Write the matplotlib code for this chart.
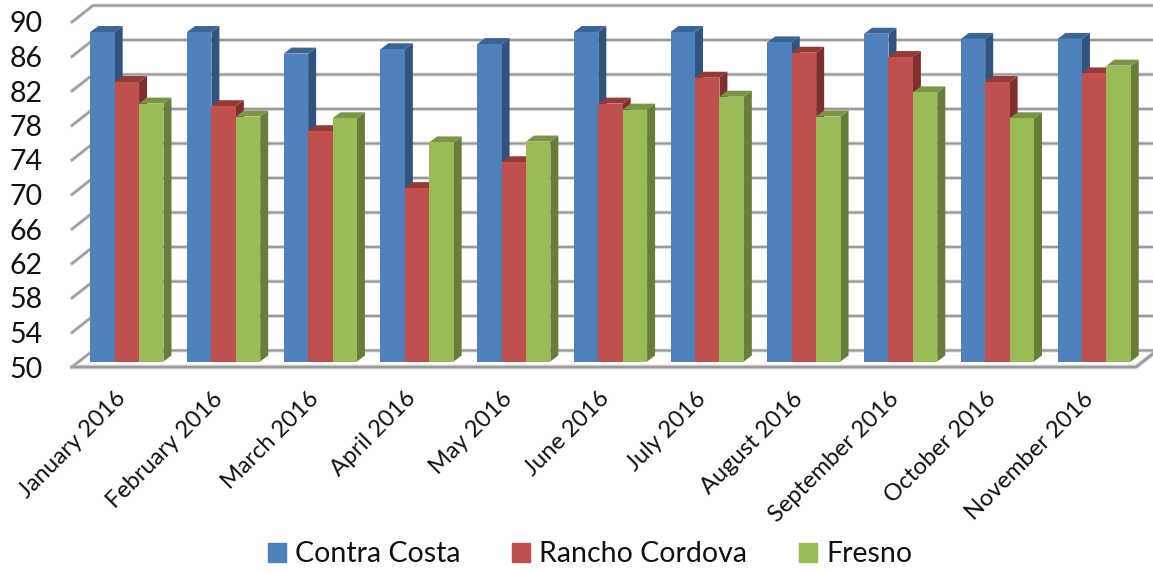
import matplotlib
matplotlib.use('Agg')
import matplotlib.pyplot as plt
from matplotlib.collections import PolyCollection
from matplotlib.patches import Patch
import numpy as np

months = ['January 2016', 'February 2016', 'March 2016', 'April 2016', 'May 2016', 'June 2016',
          'July 2016', 'August 2016', 'September 2016', 'October 2016', 'November 2016']
contra_costa = [88.2, 88.2, 85.7, 86.2, 86.8, 88.2, 88.2, 87.0, 88.0, 87.4, 87.4]
rancho_cordova = [82.4, 79.6, 76.7, 70.1, 73.1, 79.9, 82.9, 85.8, 85.3, 82.4, 83.4]
fresno = [79.9, 78.4, 78.2, 75.4, 75.5, 79.2, 80.7, 78.4, 81.2, 78.2, 84.3]
names = ['Contra Costa', 'Rancho Cordova', 'Fresno']
yticks = list(range(50, 91, 4))

front = ['#4F81BD', '#C0504D', '#9BBB59']
side = ['#31537F', '#7F2F2D', '#677D39']
top = ['#3B6596', '#963A38', '#7A9546']

plt.rcParams['font.family'] = ['Lato', 'DejaVu Sans']

W, H = 1153, 571
fig = plt.figure(figsize=(W / 100, H / 100), dpi=100)
ax = fig.add_axes([72 / W, (H - 367) / H, (1136 - 72) / W, (367 - 22) / H])
ax.set_xlim(-0.5, 10.5)
ax.set_ylim(50, 90)

# one data unit in pixels, used for the fake depth
px_x = (1136 - 72) / 11
px_y = (367 - 22) / 40
wall_dx, wall_dy = 21 / px_x, 16.5 / px_y
shift_x, shift_y = 6.5 / px_x, 5.5 / px_y
depth_x, depth_y = 8 / px_x, 6 / px_y
width = 24.4 / px_x

# gridlines run from the front edge up to the back wall
for v in yticks:
    xs = [-0.5, -0.5 + wall_dx, 10.5 + wall_dx]
    ys = [v, v + wall_dy, v + wall_dy]
    if v == 50:
        xs = [-0.5, 10.5, 10.5 + wall_dx, 10.5 + 2 * wall_dx]
        ys = [50, 50, 50 + wall_dy, 50 + wall_dy]
        ax.plot(xs, ys, color='#D9D9D9', lw=3.4, clip_on=False, zorder=1)
        ax.plot(xs, ys, color='#9A9A9A', lw=1.8, clip_on=False, zorder=1.2)
        xs = [-0.5, -0.5 + wall_dx, 10.5 + wall_dx]
        ys = [50, 50 + wall_dy, 50 + wall_dy]
    ax.plot(xs, ys, color='#D9D9D9', lw=2.8, clip_on=False, zorder=1)
    ax.plot(xs, ys, color='#9A9A9A', lw=1.5, clip_on=False, zorder=1.2)

x = np.arange(len(months))
base = 50 + shift_y
for i, vals in enumerate([contra_costa, rancho_cordova, fresno]):
    vals = np.array(vals)
    left = x + shift_x - 1.5 * width + i * width
    right = left + width
    tops = vals + shift_y
    side_polys = [[(r, base), (r + depth_x, base + depth_y), (r + depth_x, t + depth_y), (r, t)]
                  for r, t in zip(right, tops)]
    top_polys = [[(l, t), (l + depth_x, t + depth_y), (r + depth_x, t + depth_y), (r, t)]
                 for l, r, t in zip(left, right, tops)]
    ax.add_collection(PolyCollection(side_polys, facecolors=side[i], edgecolors='none',
                                     clip_on=False, zorder=3 + i))
    ax.add_collection(PolyCollection(top_polys, facecolors=top[i], edgecolors='none',
                                     clip_on=False, zorder=3 + i))
    ax.bar(left, vals - 50, width=width, bottom=base, align='edge', color=front[i],
           clip_on=False, zorder=3.5 + i)

ax.set_xlim(-0.5, 10.5)
ax.set_ylim(50, 90)
for s in ax.spines.values():
    s.set_visible(False)
ax.set_yticks(yticks)
# labels sit a little left of the group centres
ax.set_xticks(x - 5.5 / px_x)
ax.set_xticklabels(months, rotation=45, ha='right', rotation_mode='anchor', fontsize=17)
ax.tick_params(axis='y', length=0, pad=21, labelsize=20.5, labelcolor='#111111')
ax.tick_params(axis='x', length=0, pad=15, labelcolor='#111111')

handles = [Patch(color=c, label=n) for c, n in zip(front, names)]
fig.legend(handles=handles, loc='lower center', bbox_to_anchor=(590 / W, -22 / H), ncol=3, frameon=False,
           fontsize=20.5, handlelength=0.63, handleheight=0.63, handletextpad=0.32, columnspacing=1.82,
           labelcolor='#111111')

fig.savefig('out.png', dpi=100)
